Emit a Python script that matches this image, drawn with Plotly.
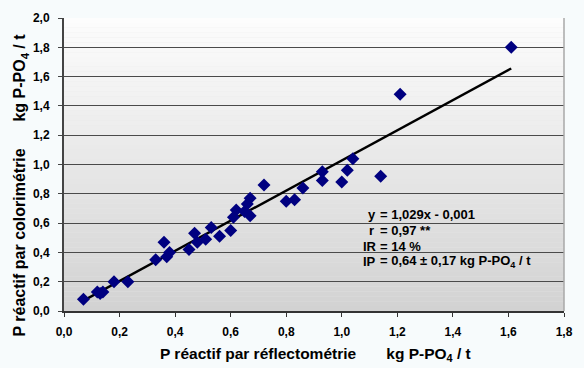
import plotly.graph_objects as go

# Data (kg P-PO4 / t)
reflecto = [0.07, 0.12, 0.13, 0.14, 0.18, 0.23, 0.33, 0.36, 0.37, 0.38, 0.45, 0.47,
            0.48, 0.51, 0.53, 0.56, 0.60, 0.61, 0.62, 0.65, 0.66, 0.67, 0.67, 0.72,
            0.80, 0.83, 0.86, 0.93, 0.93, 1.00, 1.02, 1.04, 1.14, 1.21, 1.61]
colori = [0.08, 0.13, 0.12, 0.13, 0.20, 0.20, 0.35, 0.47, 0.37, 0.40, 0.42, 0.53,
          0.47, 0.49, 0.57, 0.51, 0.55, 0.64, 0.69, 0.68, 0.73, 0.77, 0.65, 0.86,
          0.75, 0.76, 0.84, 0.95, 0.89, 0.88, 0.96, 1.04, 0.92, 1.48, 1.80]

slope = 1.029
intercept = -0.001

x_ticks = [0.0, 0.2, 0.4, 0.6, 0.8, 1.0, 1.2, 1.4, 1.6, 1.8]
x_tick_labels = ["0,0", "0,2", "0,4", "0,6", "0,8", "1,0", "1,2", "1,4", "1,6", "1,8"]
y_ticks = [0.0, 0.2, 0.4, 0.6, 0.8, 1.0, 1.2, 1.4, 1.6, 1.8, 2.0]
y_tick_labels = ["0,0", "0,2", "0,4", "0,6", "0,8", "1,0", "1,2", "1,4", "1,6", "1,8", "2,0"]

stats_labels = ["y", "r", "IR", "IP"]
stats_values = ["= 1,029x - 0,001", "= 0,97 **", "= 14 %", "= 0,64 ± 0,17 kg P-PO<sub>4</sub> / t"]

FONT = "Liberation Sans, Arial, sans-serif"

fig = go.Figure()

# trend line
xmin, xmax = min(reflecto), max(reflecto)
fig.add_trace(go.Scatter(
    x=[xmin, xmax], y=[slope * xmin + intercept, slope * xmax + intercept],
    mode="lines", line=dict(color="black", width=2.4), hoverinfo="skip", showlegend=False))

fig.add_trace(go.Scatter(
    x=reflecto, y=colori, mode="markers",
    marker=dict(symbol="diamond", size=10, color="#000080", line=dict(width=0)),
    showlegend=False))

# gradient background strips
shapes = []
n = 60
top = (253, 253, 253)
bot = (210, 210, 210)
for i in range(n):
    t = (i + 0.5) / n
    c = tuple(round(top[k] + (bot[k] - top[k]) * t) for k in range(3))
    shapes.append(dict(type="rect", xref="x domain", yref="y domain",
                       x0=0, x1=1, y0=1 - (i + 1) / n, y1=1 - i / n,
                       fillcolor="rgb(%d,%d,%d)" % c, line=dict(width=0), layer="below"))
# right border
shapes.append(dict(type="line", xref="x domain", yref="y domain", x0=1, x1=1, y0=0, y1=1,
                   line=dict(color="#a8a8a8", width=1.5)))

annotations = []
label_x = [1.086, 1.092, 1.070, 1.070]
label_y = [0.659, 0.547, 0.441, 0.335]
for lx, ly, lab, val in zip(label_x, label_y, stats_labels, stats_values):
    annotations.append(dict(x=lx, y=ly, xref="x", yref="y", text=lab, showarrow=False,
                            xanchor="left", yanchor="middle",
                            font=dict(family=FONT, size=13, color="black", weight="bold")))
    annotations.append(dict(x=1.130, y=ly, xref="x", yref="y", text=val, showarrow=False,
                            xanchor="left", yanchor="middle",
                            font=dict(family=FONT, size=13, color="black", weight="bold")))

annotations.append(dict(
    x=-0.087, y=0.43, xref="paper", yref="paper", textangle=-90, showarrow=False,
    xanchor="center", yanchor="middle",
    text="P réactif par colorimétrie&nbsp;&nbsp;&nbsp;&nbsp;&nbsp;&nbsp;kg P-PO<sub>4</sub> / t",
    font=dict(family=FONT, size=16, color="black", weight="bold")))
annotations.append(dict(
    x=0.503, y=-0.148, xref="paper", yref="paper", showarrow=False,
    xanchor="center", yanchor="middle",
    text="P réactif par réflectométrie&nbsp;&nbsp;&nbsp;&nbsp;&nbsp;&nbsp;&nbsp;kg P-PO<sub>4</sub> / t",
    font=dict(family=FONT, size=15.5, color="black", weight="bold")))

fig.update_layout(
    width=584, height=368,
    margin=dict(l=64, r=11, t=13, b=57),
    paper_bgcolor="#f7fbfc", plot_bgcolor="#e8e8e8",
    shapes=shapes, annotations=annotations,
    font=dict(family=FONT, size=12, color="black"),
    xaxis=dict(range=[0, 1.8], tickvals=x_ticks, ticktext=x_tick_labels,
               showgrid=False, zeroline=False, showline=True, linecolor="#333", linewidth=1.5,
               ticks="outside", ticklen=4, tickcolor="#333", ticklabelstandoff=5,
               tickfont=dict(family=FONT, size=12, color="black", weight="bold")),
    yaxis=dict(range=[0, 2.0], tickvals=y_ticks, ticktext=y_tick_labels,
               showgrid=True, gridcolor="#4a4a4a", gridwidth=1, zeroline=False,
               showline=True, linecolor="#444", linewidth=2,
               ticks="outside", ticklen=4, tickcolor="#444", ticklabelstandoff=6,
               tickfont=dict(family=FONT, size=12, color="black", weight="bold")),
)

fig.write_html("out.html")
